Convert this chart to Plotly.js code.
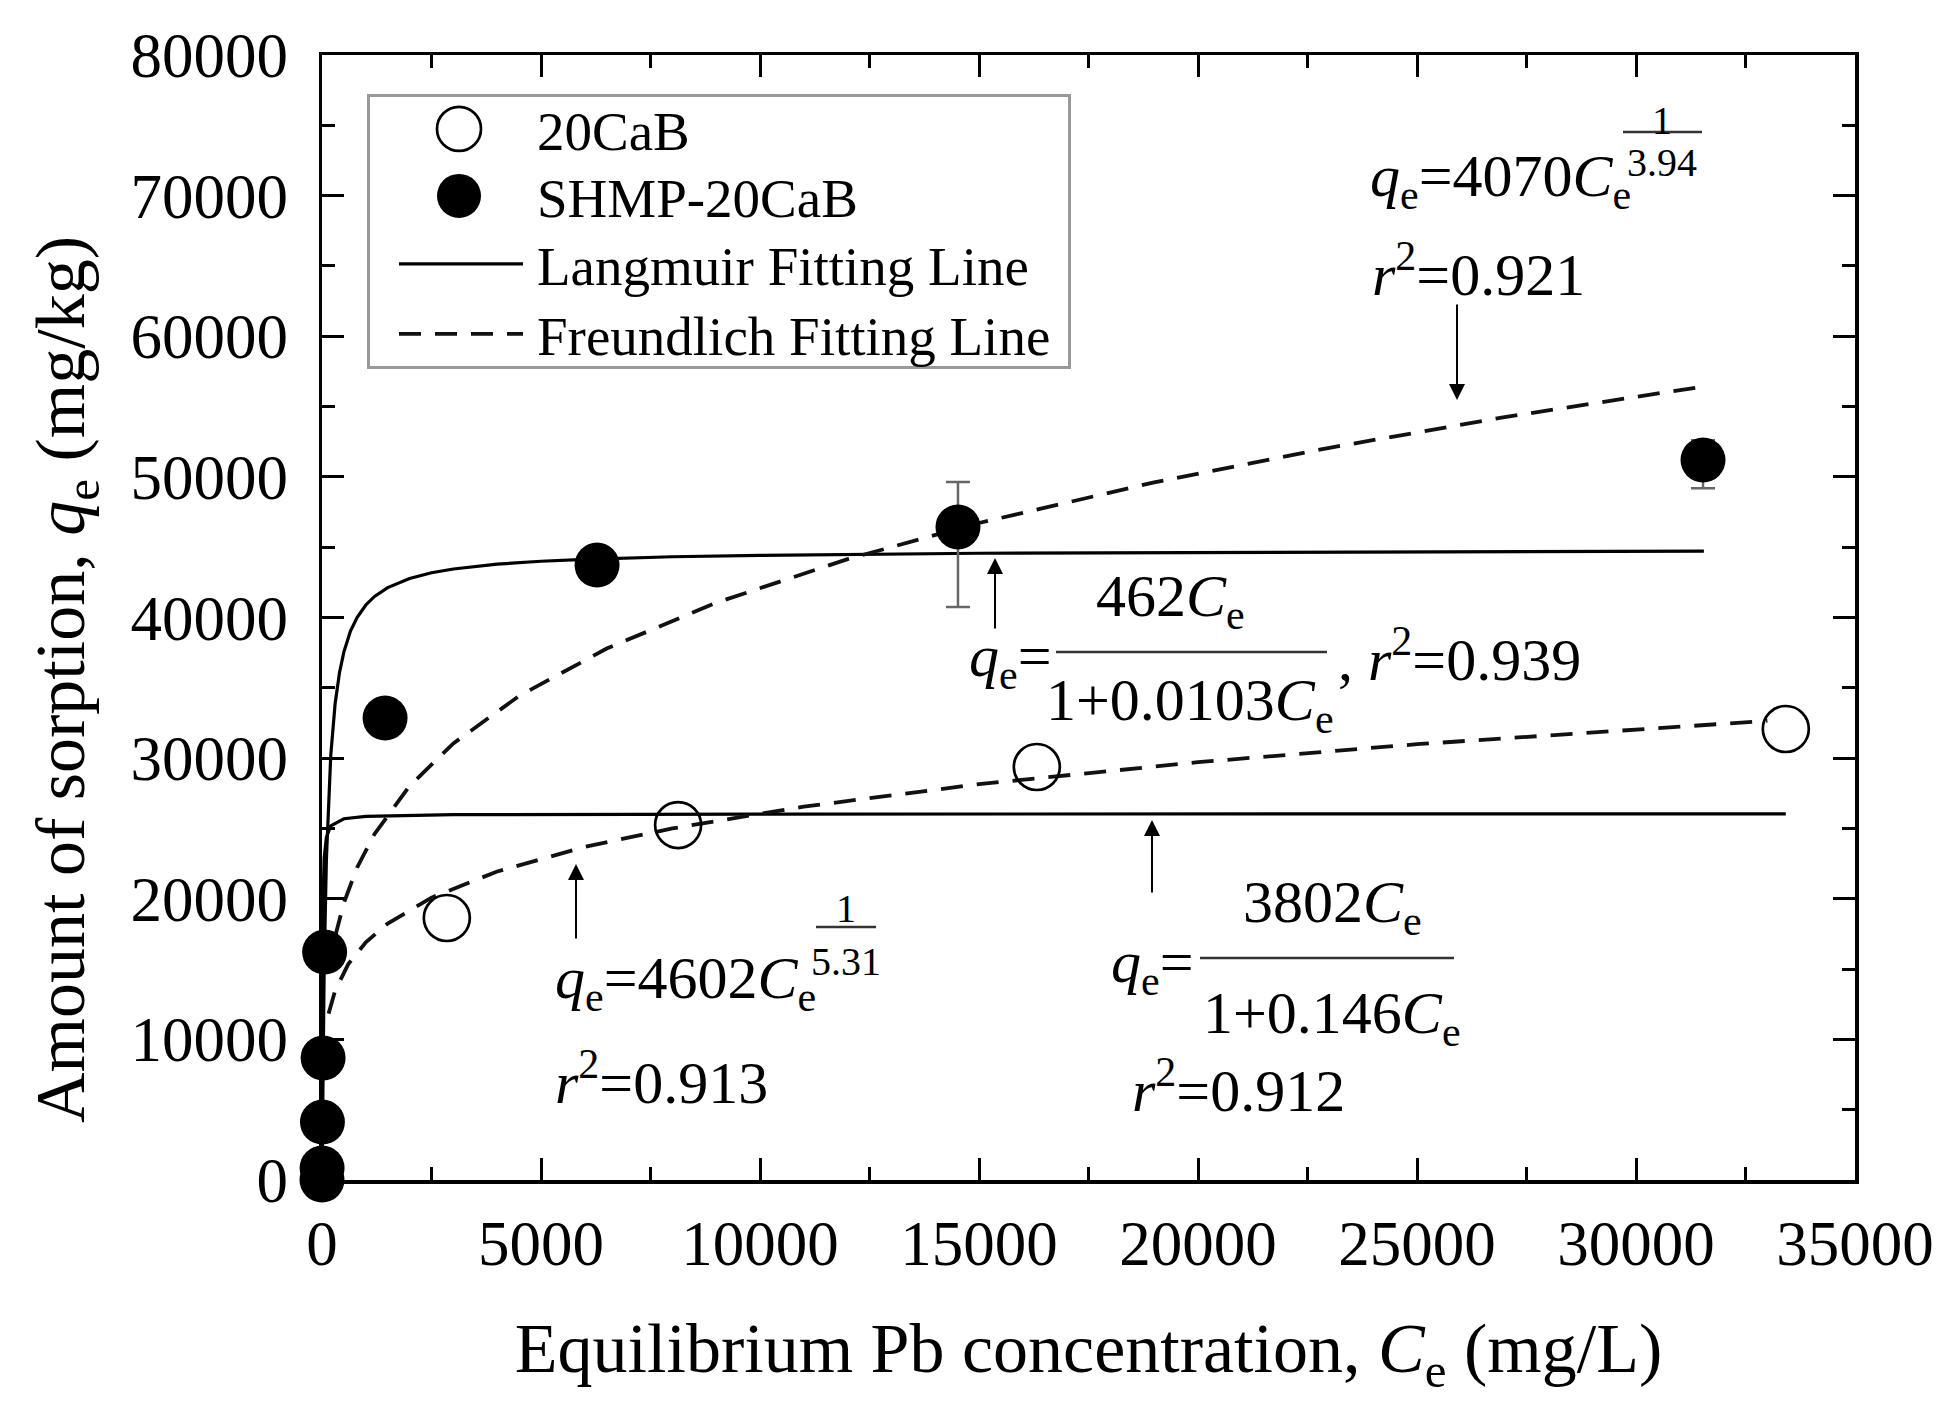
<!DOCTYPE html>
<html>
<head>
<meta charset="utf-8">
<script src="https://cdn.plot.ly/plotly-3.0.1.min.js"></script>
<style>html,body{margin:0;padding:0;background:#fff;}#chart{width:1953px;height:1425px;}</style>
</head>
<body>
<div id="chart"></div>
<script>
// ---- data ----
const xTickVals = [0, 5000, 10000, 15000, 20000, 25000, 30000, 35000];
const yTickVals = [0, 10000, 20000, 30000, 40000, 50000, 60000, 70000, 80000];

const cabCe = [2850, 8130, 16320, 33420];
const cabQe = [18630, 25240, 29370, 32070];

const shmpCe = [0, 2, 10, 25, 60, 1440, 6280, 14520, 31530];
const shmpQe = [0, 850, 4120, 8680, 16210, 32850, 43730, 46440, 51200];
const shmpErrPlus  = [0, 0, 0, 0, 0, 0, 0, 3190, 1400];
const shmpErrMinus = [0, 0, 0, 0, 0, 0, 0, 5690, 2000];

const langShmpCe = [0, 20, 50, 100, 200, 300, 400, 500, 650, 800, 1000, 1200, 1500, 2000, 2500, 3000, 4000, 5000, 6000, 8000, 10000, 15000, 25000, 31550];
const langShmpQe = [0, 7660, 15250, 22760, 30200, 33890, 36090, 37560, 39030, 40000, 40890, 41500, 42130, 42780, 43180, 43450, 43790, 44000, 44140, 44320, 44420, 44570, 44680, 44720];

const langCabCe = [0, 2, 5, 10, 20, 50, 100, 200, 500, 1000, 3000, 10000, 20000, 33420];
const langCabQe = [0, 5890, 10990, 15460, 19400, 22900, 24370, 25180, 25690, 25860, 25980, 26020, 26030, 26040];

const freCabCe = [150, 300, 600, 1000, 1500, 2500, 4000, 6000, 8000, 11000, 15000, 20000, 25000, 30000, 33000];
const freCabQe = [11830, 13470, 15350, 16900, 18240, 20080, 21940, 23690, 25000, 26550, 28150, 29710, 30990, 32070, 32650];

const freShmpCe = [300, 500, 800, 1200, 2000, 3000, 4500, 6500, 9000, 12000, 15000, 19000, 23000, 27000, 31400];
const freShmpQe = [17320, 19710, 22210, 24610, 28020, 31050, 34420, 37790, 41050, 44150, 46720, 49610, 52070, 54250, 56360];

const seriesNames = ['20CaB', 'SHMP-20CaB', 'Langmuir Fitting Line', 'Freundlich Fitting Line'];

// ---- styling ----
const FONT = 'Liberation Serif, Times New Roman, serif';
const L = 322, R = 1855, T = 55, B = 1180;
const PX = x => (x - L) / (R - L);
const PY = y => (B - y) / (B - T);

const solid = {color: '#000', width: 3.2};
const dashed = {color: '#111', width: 3.8, dash: '22px,14px'};

const traces = [
  {x: langShmpCe, y: langShmpQe, mode: 'lines', line: solid, name: seriesNames[2], legendrank: 3, legendgroup: 'lang'},
  {x: langCabCe, y: langCabQe, mode: 'lines', line: solid, name: seriesNames[2], showlegend: false, legendgroup: 'lang'},
  {x: freShmpCe, y: freShmpQe, mode: 'lines', line: dashed, name: seriesNames[3], legendrank: 4, legendgroup: 'fre'},
  {x: freCabCe, y: freCabQe, mode: 'lines', line: dashed, name: seriesNames[3], showlegend: false, legendgroup: 'fre'},
  {x: cabCe, y: cabQe, mode: 'markers', name: seriesNames[0], legendrank: 1, cliponaxis: false,
   marker: {symbol: 'circle-open', size: 46, color: '#000', line: {width: 2.7, color: '#000'}}},
  {x: shmpCe, y: shmpQe, mode: 'markers', name: seriesNames[1], legendrank: 2, cliponaxis: false,
   marker: {symbol: 'circle', size: 45, color: '#000'},
   error_y: {type: 'data', symmetric: false, array: shmpErrPlus, arrayminus: shmpErrMinus,
             color: '#666', thickness: 2.5, width: 12}}
].map(t => Object.assign({type: 'scatter', hoverinfo: 'skip'}, t));

function txt(text, x, y, size, xanchor) {
  return {text: text, x: PX(x), y: PY(y), xref: 'paper', yref: 'paper', showarrow: false,
          xanchor: xanchor || 'left', yanchor: 'middle', font: {family: FONT, size: size || 60, color: '#000'}};
}
function arrow(x, tipY, tailY) {
  return {text: '', x: PX(x), y: PY(tipY), xref: 'paper', yref: 'paper', showarrow: true,
          ax: 0, ay: tailY - tipY, arrowhead: 2, arrowsize: 1.6, arrowwidth: 2, arrowcolor: '#000', standoff: 0};
}
function bar(x0, x1, y) {
  return {type: 'line', xref: 'paper', yref: 'paper', x0: PX(x0), x1: PX(x1), y0: PY(y), y1: PY(y),
          line: {color: '#333', width: 2.5}};
}
const qe = '<i>q</i><sub>e</sub>';
const Ce = '<i>C</i><sub>e</sub>';
const r2 = '<i>r</i><sup>2</sup>';

const yTitle = Object.assign(txt('Amount of sorption, ' + qe + ' (mg/kg)', 66, 680, 70, 'center'), {textangle: -90});

const annotations = [
  yTitle,
  // Freundlich SHMP-20CaB
  txt(qe + '=4070' + Ce, 1368, 180),
  txt('1', 1662, 121, 40, 'center'),
  txt('3.94', 1662, 162, 40, 'center'),
  txt(r2 + '=0.921', 1370, 271),
  arrow(1457, 400, 303),
  // Langmuir SHMP-20CaB
  txt(qe + '=', 1054, 660, 60, 'right'),
  txt('462' + Ce, 1170, 600, 60, 'center'),
  txt('1+0.0103' + Ce, 1190, 704, 60, 'center'),
  txt(', ' + r2 + '=0.939', 1336, 655),
  arrow(995, 558, 630),
  // Freundlich 20CaB
  txt(qe + '=4602' + Ce, 553, 982),
  txt('1', 846, 908, 40, 'center'),
  txt('5.31', 846, 961, 40, 'center'),
  txt(r2 + '=0.913', 553, 1078),
  arrow(576, 864, 940),
  // Langmuir 20CaB
  txt(qe + '=', 1196, 966, 60, 'right'),
  txt('3802' + Ce, 1332, 906, 60, 'center'),
  txt('1+0.146' + Ce, 1332, 1017, 60, 'center'),
  txt(r2 + '=0.912', 1130, 1086),
  arrow(1152, 820, 894)
];

const shapes = [
  bar(1623, 1702, 132),
  bar(1056, 1327, 652),
  bar(816, 876, 927),
  bar(1200, 1454, 958)
];

function axis(range, vals, minorDtick) {
  return {
    range: range, tickvals: vals, ticktext: vals.map(v => String(v)),
    ticks: 'inside', ticklen: 22, tickwidth: 3, tickcolor: '#000',
    showline: true, linewidth: 3.5, linecolor: '#000', mirror: 'ticks',
    showgrid: false, zeroline: false, fixedrange: true,
    tickfont: {family: FONT, size: 63, color: '#000'},
    minor: {dtick: minorDtick, tick0: 0, ticks: 'inside', ticklen: 13, tickwidth: 3, tickcolor: '#000', showgrid: false},
    automargin: false
  };
}

const layout = {
  width: 1953, height: 1425,
  margin: {l: L, r: 1953 - R, t: T, b: 1425 - B},
  paper_bgcolor: '#fff', plot_bgcolor: '#fff',
  font: {family: FONT, color: '#000'},
  xaxis: Object.assign(axis([0, 35000], xTickVals, 2500), {
    ticklabelstandoff: 6,
    title: {text: 'Equilibrium Pb concentration, ' + Ce + ' (mg/L)', font: {family: FONT, size: 70, color: '#000'}, standoff: 46}
  }),
  yaxis: Object.assign(axis([0, 80000], yTickVals, 5000), {ticklabelstandoff: 18}),
  showlegend: true,
  legend: {x: PX(367), y: PY(95), xanchor: 'left', yanchor: 'top',
           bgcolor: '#fff', bordercolor: '#999', borderwidth: 3,
           font: {family: FONT, size: 55, color: '#000'}, itemwidth: 157, tracegroupgap: 0},
  annotations: annotations,
  shapes: shapes
};

// legend geometry of the reference (page pixels)
const LEG = {top: 95, bottom: 367, right: 1069, textLeft: 537, symX: 459, lineX0: 399, lineLen: 124,
             rowY: [130, 197, 265, 335], markerR: 22};

function parseT(el) {
  const t = el.getAttribute('transform') || '';
  const m = /translate\(\s*([-\d.e]+)[ ,]*([-\d.e]*)\s*\)/.exec(t);
  return m ? [parseFloat(m[1]), parseFloat(m[2] || 0)] : [0, 0];
}
function fixLegend(gd) {
  const leg = gd.querySelector('.legend');
  if (!leg) return;
  const items = Array.from(leg.querySelectorAll('g.traces'));
  items.sort((a, b) => a.getBoundingClientRect().top - b.getBoundingClientRect().top);
  items.forEach((g, i) => {
    const text = g.querySelector('text.legendtext');
    if (text && i < LEG.rowY.length) {
      const r = text.getBoundingClientRect();
      const dy = LEG.rowY[i] - (r.top + r.height * 0.47);
      const [tx, ty] = parseT(g);
      g.setAttribute('transform', 'translate(' + tx + ',' + (ty + dy) + ')');
      const r2b = text.getBoundingClientRect();
      const dx = LEG.textLeft - r2b.left;
      const x0 = parseFloat(text.getAttribute('x') || 0);
      text.setAttribute('x', x0 + dx);
      text.querySelectorAll('tspan[x]').forEach(ts => ts.setAttribute('x', parseFloat(ts.getAttribute('x')) + dx));
    }
    g.querySelectorAll('.legendpoints path.scatterpts').forEach(p => {
      const rr = LEG.markerR;
      p.setAttribute('d', 'M' + rr + ',0A' + rr + ',' + rr + ' 0 1,1 0,-' + rr + 'A' + rr + ',' + rr + ' 0 0,1 ' + rr + ',0Z');
      const [px, py] = parseT(p);
      const rb = p.getBoundingClientRect();
      const cx = rb.left + rb.width / 2;
      p.setAttribute('transform', 'translate(' + (px + LEG.symX - cx) + ',' + py + ')');
    });
    g.querySelectorAll('.legendlines path').forEach(p => {
      p.setAttribute('d', 'M0,0h' + LEG.lineLen);
      const rb = p.getBoundingClientRect();
      p.setAttribute('d', 'M' + (LEG.lineX0 - rb.left) + ',0h' + LEG.lineLen);
    });
  });
  const bg = leg.querySelector('rect.bg');
  if (bg) {
    const rb = bg.getBoundingClientRect();
    const h = parseFloat(bg.getAttribute('height'));
    const w = parseFloat(bg.getAttribute('width'));
    const y0 = parseFloat(bg.getAttribute('y') || 0);
    bg.setAttribute('y', y0 + (LEG.top - rb.top));
    bg.setAttribute('height', h - (LEG.top - rb.top) + (LEG.bottom - rb.bottom));
    bg.setAttribute('width', w + (LEG.right - rb.right));
  }
  leg.querySelectorAll('clipPath rect').forEach(c => {
    c.setAttribute('height', 2000); c.setAttribute('width', 2000);
  });
}

Plotly.newPlot('chart', traces, layout, {staticPlot: true, displayModeBar: false}).then(fixLegend);
</script>
</body>
</html>
